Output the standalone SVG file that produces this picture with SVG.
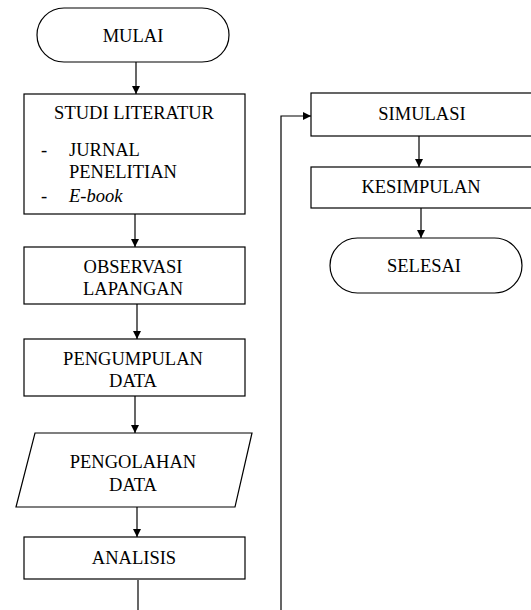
<svg xmlns="http://www.w3.org/2000/svg" width="531" height="610" viewBox="0 0 531 610">
<style>
.n{fill:#fff;stroke:#000;stroke-width:1.2}
.t{font-size:18.5px;fill:#000;text-anchor:middle}
.l{font-size:18.5px;fill:#000}
.c{fill:none;stroke:#000;stroke-width:1.2}
</style>
<defs>
<marker id="ah" markerWidth="8" markerHeight="8" refX="8" refY="4" orient="auto" markerUnits="userSpaceOnUse">
<path d="M0,0 L8,4 L0,8 Z" fill="#000"/>
</marker>
</defs>
<rect width="531" height="610" fill="#fff"/>
<g id="connectors">
<line class="c" x1="136" y1="62" x2="136" y2="94" marker-end="url(#ah)"/>
<line class="c" x1="135" y1="214" x2="135" y2="247" marker-end="url(#ah)"/>
<line class="c" x1="137" y1="304" x2="137" y2="339" marker-end="url(#ah)"/>
<line class="c" x1="135" y1="396" x2="135" y2="433" marker-end="url(#ah)"/>
<line class="c" x1="137" y1="507" x2="137" y2="537" marker-end="url(#ah)"/>
<line class="c" x1="138" y1="580" x2="138" y2="610"/>
<polyline class="c" points="281,610 281,116 311,116" marker-end="url(#ah)"/>
<line class="c" x1="419" y1="136" x2="419" y2="167" marker-end="url(#ah)"/>
<line class="c" x1="421" y1="208" x2="421" y2="238" marker-end="url(#ah)"/>
</g>
<g font-family="Liberation Serif, DejaVu Serif, serif">
<g id="mulai">
<rect class="n" x="37" y="8" width="192" height="54" rx="27" ry="27"/>
<text class="t" x="133" y="42">MULAI</text>
</g>
<g id="studi-literatur">
<rect class="n" x="24" y="94" width="221" height="120"/>
<text class="t" x="134" y="119">STUDI LITERATUR</text>
<text class="l" x="41" y="156">-</text>
<text class="l" x="69" y="156">JURNAL</text>
<text class="l" x="69" y="178">PENELITIAN</text>
<text class="l" x="41" y="202">-</text>
<text class="l" x="69" y="202" font-style="italic">E-book</text>
</g>
<g id="observasi">
<rect class="n" x="24" y="247" width="221" height="57"/>
<text class="t" x="133" y="273">OBSERVASI</text>
<text class="t" x="133" y="295">LAPANGAN</text>
</g>
<g id="pengumpulan">
<rect class="n" x="24" y="339" width="221" height="57"/>
<text class="t" x="133" y="365">PENGUMPULAN</text>
<text class="t" x="133" y="387">DATA</text>
</g>
<g id="pengolahan">
<polygon class="n" points="35,433 252,433 235,507 16,507"/>
<text class="t" x="133" y="468">PENGOLAHAN</text>
<text class="t" x="133" y="491">DATA</text>
</g>
<g id="analisis">
<rect class="n" x="24" y="537" width="221" height="42"/>
<text class="t" x="134" y="564">ANALISIS</text>
</g>
<g id="simulasi">
<rect class="n" x="311" y="93" width="230" height="43"/>
<text class="t" x="422" y="120">SIMULASI</text>
</g>
<g id="kesimpulan">
<rect class="n" x="311" y="167" width="230" height="41"/>
<text class="t" x="421" y="193">KESIMPULAN</text>
</g>
<g id="selesai">
<rect class="n" x="330" y="238" width="192" height="55" rx="27.5" ry="27.5"/>
<text class="t" x="424" y="272">SELESAI</text>
</g>
</g>
</svg>
